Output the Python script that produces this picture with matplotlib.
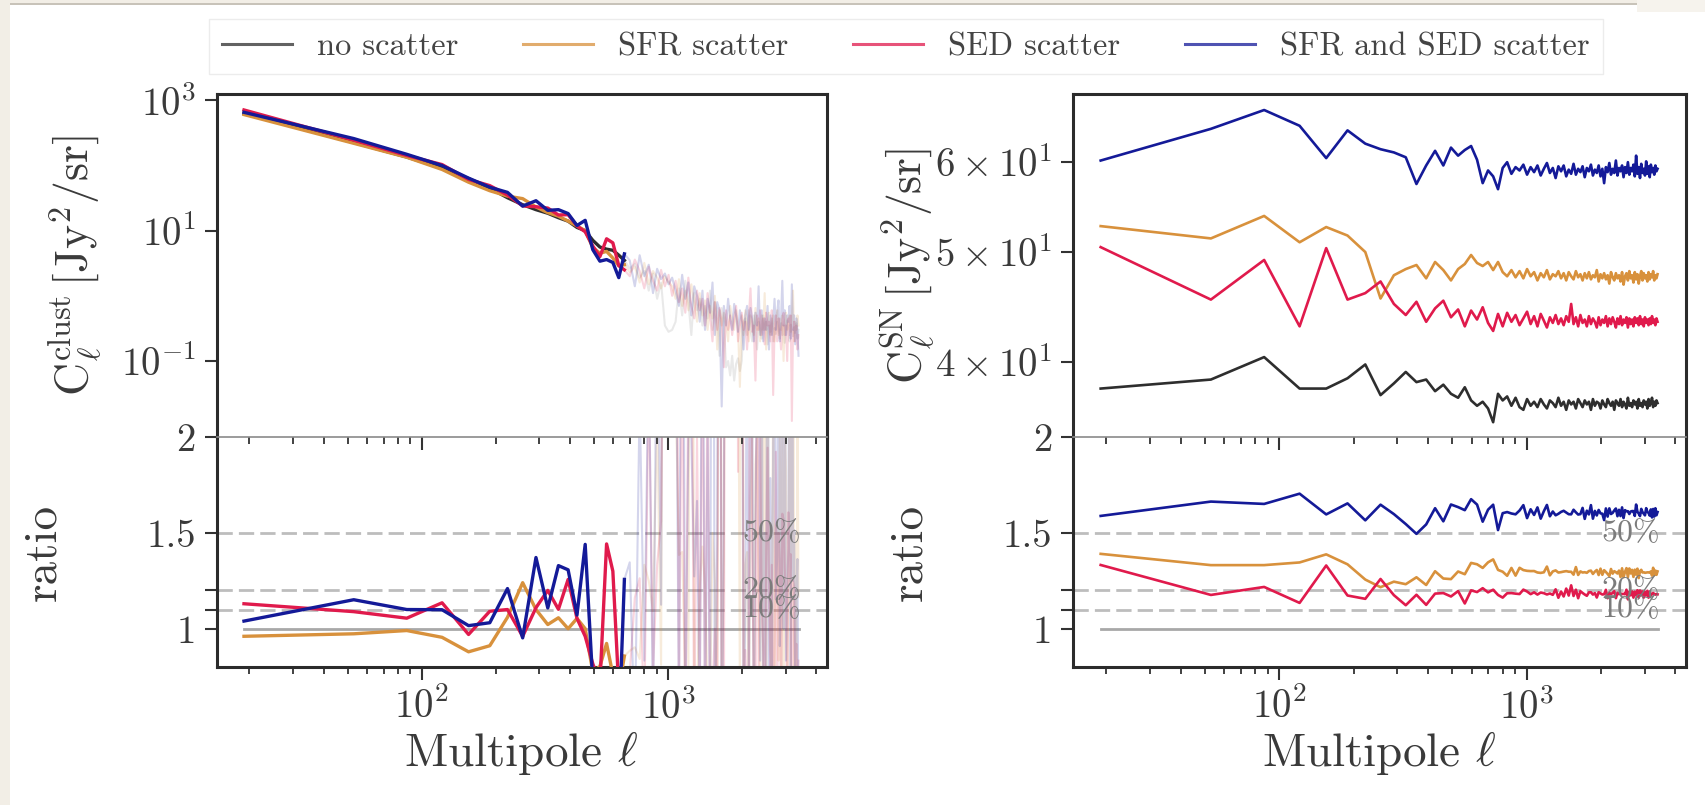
import matplotlib
matplotlib.use('Agg')
import matplotlib.pyplot as plt
from matplotlib.ticker import FixedLocator, FixedFormatter, NullLocator, LogLocator
from matplotlib.patches import Rectangle
from matplotlib.lines import Line2D
import numpy as np

plt.rcParams['font.family'] = ['cmr10', 'DejaVu Serif']
plt.rcParams['mathtext.fontset'] = 'cm'
plt.rcParams['axes.formatter.use_mathtext'] = True

# multipole bin centres
ell = [19, 53, 87, 121, 155, 189, 223, 257, 291, 325,
       359, 393, 427, 461, 495, 529, 563, 597, 631, 665,
       699, 733, 767, 801, 835, 869, 903, 937, 971, 1005,
       1039, 1073, 1107, 1141, 1175, 1209, 1243, 1277, 1311, 1345,
       1379, 1413, 1447, 1481, 1515, 1549, 1583, 1617, 1651, 1685,
       1719, 1753, 1787, 1821, 1855, 1889, 1923, 1957, 1991, 2025,
       2059, 2093, 2127, 2161, 2195, 2229, 2263, 2297, 2331, 2365,
       2399, 2433, 2467, 2501, 2535, 2569, 2603, 2637, 2671, 2705,
       2739, 2773, 2807, 2841, 2875, 2909, 2943, 2977, 3011, 3045,
       3079, 3113, 3147, 3181, 3215, 3249, 3283, 3317, 3351, 3385]
n_clean = 20   # clustering spectra are reliable up to this bin

labels = ['no scatter', 'SFR scatter', 'SED scatter', 'SFR and SED scatter']
colors = ['#2e2e2e', '#d8913c', '#e01a4c', '#141a98']

# clustering power [Jy^2/sr]
clust_none = [630, 225, 135, 91, 63, 45, 32, 25, 21, 18.5,
              15.8, 14.0, 11.2, 10.0, 7.1, 5.6, 5.2, 5.0, 4.2, 3.5,
              2.6, 3.1, 1.9, 2.4, 1.2, 2.2, 0.9, 1.6, 0.35, 0.28,
              0.3, 0.4, 1.3, 0.5, 1.7, 0.8, 0.25, 1.1, 0.6, 0.9,
              0.35, 0.7, 0.45, 1.2, 0.3, 0.8, 0.55, 0.12, 0.65, 0.4,
              0.08, 0.1, 0.06, 0.12, 0.05, 0.09, 0.11, 0.07, 0.1, 0.4,
              0.45, 0.25, 0.6, 0.3, 0.2, 0.5, 0.35, 0.15, 0.4, 0.3,
              0.22, 0.5, 0.3, 0.4, 0.18, 0.35, 0.28, 0.45, 0.2, 0.32,
              0.26, 0.4, 0.3, 0.22, 0.38, 0.25, 0.35, 0.19, 0.3, 0.42,
              0.28, 0.2, 0.36, 0.3, 0.24, 0.33, 0.27, 0.38, 0.22, 0.3]
clust_sfr = [605, 219, 133.7, 86.9, 55.4, 41.0, 33.9, 31.0, 23.1, 18.9,
             16.7, 14.0, 11.8, 10.0, 5.5, 4.5, 4.8, 3.8, 2.9, 3.0,
             2.3, 2.8, 1.6, 3.2, 1.5, 2.4, 1.9, 1.3, 2.0, 1.6,
             1.4, 0.9, 1.8, 0.7, 1.2, 0.6, 1.5, 0.8, 0.4, 1.1,
             0.5, 0.85, 0.3, 0.7, 0.45, 1.0, 0.15, 0.6, 0.35, 0.55,
             0.4, 0.2, 0.7, 0.45, 0.3, 0.6, 0.35, 0.04, 0.5, 0.25,
             0.6, 0.35, 0.2, 0.5, 0.4, 0.25, 0.65, 0.3, 0.45, 0.2,
             0.5, 0.3, 1.1, 0.15, 0.4, 0.55, 0.25, 0.35, 0.5, 0.2,
             0.4, 0.6, 0.25, 0.45, 0.3, 0.5, 0.1, 0.4, 0.55, 0.3,
             0.35, 0.5, 0.28, 0.45, 1.2, 0.2, 0.4, 0.3, 0.5, 0.35]
clust_sed = [712, 245, 142.4, 103.3, 61.1, 49.1, 35.2, 24.0, 23.3, 22.2,
             17.4, 17.6, 11.8, 9.6, 5.8, 4.0, 7.5, 6.5, 2.9, 2.5,
             2.0, 3.6, 2.4, 1.3, 2.8, 1.7, 1.2, 2.5, 1.4, 2.1,
             1.0, 1.7, 0.8, 1.3, 0.55, 1.9, 0.7, 0.45, 1.2, 0.6,
             0.9, 0.35, 1.1, 0.5, 0.2, 0.8, 0.3, 0.65, 0.4, 0.08,
             0.6, 0.3, 0.5, 0.25, 0.45, 0.7, 0.2, 0.35, 0.55, 0.3,
             0.4, 0.15, 0.45, 1.3, 0.28, 0.35, 0.05, 0.5, 0.3, 0.6,
             0.25, 0.45, 0.18, 0.55, 0.35, 0.4, 0.2, 0.6, 0.03, 0.3,
             0.5, 0.2, 0.45, 0.3, 0.15, 0.4, 0.55, 0.25, 0.35, 0.1,
             0.45, 0.25, 0.5, 0.012, 0.3, 0.4, 0.2, 0.35, 0.15, 0.25]
clust_both = [655, 259, 148.5, 100, 64, 46.4, 38.7, 23.8, 28.8, 20.5,
              21.0, 18.3, 12.0, 14.4, 5.1, 3.4, 3.6, 3.25, 1.9, 4.4,
              3.5, 1.4, 4.2, 2.0, 3.0, 1.1, 2.6, 1.8, 2.2, 1.5,
              1.9, 1.2, 0.7, 2.1, 0.9, 1.6, 0.5, 1.4, 1.0, 0.4,
              1.2, 0.3, 0.9, 0.55, 1.6, 0.25, 0.8, 0.6, 0.02, 0.7,
              0.35, 0.9, 0.45, 0.3, 0.75, 0.5, 0.28, 0.6, 0.4, 0.15,
              0.5, 0.7, 0.3, 0.65, 0.45, 0.2, 0.55, 0.35, 1.4, 0.25,
              0.6, 0.2, 0.45, 0.3, 0.7, 0.15, 0.5, 0.25, 0.4, 0.9,
              0.3, 0.55, 0.85, 0.2, 0.45, 1.7, 0.35, 0.6, 0.25, 0.5,
              0.4, 0.7, 0.22, 1.5, 0.3, 0.5, 0.18, 0.45, 0.3, 0.12]

# shot noise power [Jy^2/sr]
sn_none = [37.9, 38.6, 40.4, 37.9, 37.9, 38.7, 39.8, 37.4, 38.3, 39.2,
           38.4, 38.6, 37.7, 38.2, 37.5, 37.2, 38.0, 37.0, 36.6, 36.9,
           36.4, 35.4, 37.5, 37.0, 37.3, 36.6, 37.2, 36.5, 36.3, 37.1,
           36.6, 36.9, 36.5, 37.1, 36.7, 36.4, 37.0, 36.8, 36.5, 37.2,
           36.6, 36.9, 36.3, 37.0, 36.7, 36.9, 36.4, 37.1, 36.8, 36.5,
           37.0, 36.7, 36.9, 36.3, 37.1, 36.6, 36.9, 36.8, 36.4, 37.0,
           36.7, 36.5, 37.1, 36.8, 36.6, 36.9, 36.3, 37.0, 36.8, 36.6,
           37.1, 36.5, 36.9, 36.7, 36.4, 37.2, 36.6, 36.8, 36.5, 37.0,
           36.7, 36.9, 36.4, 37.1, 36.6, 36.8, 36.5, 37.0, 36.7, 36.9,
           36.4, 37.1, 36.6, 36.8, 37.2, 36.5, 36.9, 36.6, 37.0, 36.8]
sn_sfr = [52.7, 51.4, 53.8, 51.0, 52.6, 51.7, 50.0, 45.5, 47.7, 48.3,
          48.7, 47.4, 49.0, 48.2, 47.2, 48.3, 48.8, 49.7, 48.9, 48.6,
          49.0, 48.2, 49.0, 48.0, 47.6, 48.2, 47.5, 48.1, 47.4, 48.3,
          47.6, 48.0, 47.2, 47.9, 47.5, 48.2, 47.3, 47.8, 47.6, 48.1,
          47.4, 47.9, 47.2, 48.0, 47.6, 47.3, 48.1, 47.5, 47.8, 47.2,
          47.9, 47.4, 48.0, 47.3, 47.7, 47.5, 48.2, 47.1, 47.8, 47.4,
          47.9, 47.3, 47.7, 46.9, 48.0, 47.5, 47.2, 47.9, 47.4, 47.7,
          47.1, 48.0, 46.8, 47.6, 47.9, 47.2, 48.1, 47.4, 47.7, 47.0,
          48.0, 47.3, 47.8, 46.9, 47.6, 48.1, 47.2, 47.9, 47.4, 47.7,
          47.1, 48.0, 47.3, 47.8, 47.5, 48.1, 47.2, 47.7, 47.4, 47.8]
sn_sed = [50.5, 45.4, 49.2, 43.0, 50.4, 45.4, 46.0, 47.1, 45.0, 44.0,
          45.2, 43.4, 44.6, 45.3, 43.8, 44.5, 43.0, 44.4, 43.6, 44.7,
          43.3, 42.6, 44.1, 43.0, 44.2, 43.4, 44.0, 43.1, 43.7, 44.3,
          43.2, 43.9, 43.0, 44.1, 43.5, 42.9, 43.8, 43.3, 44.0, 43.2,
          43.7, 43.1, 43.9, 43.4, 45.0, 43.2, 43.8, 43.0, 44.0, 43.3,
          43.6, 43.0, 43.9, 43.2, 43.7, 43.4, 42.9, 43.8, 43.1, 43.6,
          43.3, 43.9, 43.0, 43.7, 43.2, 43.8, 43.4, 42.9, 43.7, 43.2,
          43.9, 43.1, 43.6, 43.3, 43.8, 42.9, 43.7, 43.2, 43.6, 43.0,
          43.8, 43.3, 43.7, 43.1, 43.9, 43.2, 43.6, 43.0, 43.8, 43.3,
          43.6, 43.1, 43.7, 43.2, 43.9, 43.3, 43.6, 43.1, 43.7, 43.4]
sn_both = [60.2, 64.2, 66.7, 64.6, 60.5, 64.0, 62.3, 61.6, 61.2, 60.6,
           57.4, 59.6, 61.4, 59.6, 61.8, 60.8, 61.5, 62.0, 60.3, 57.5,
           59.0, 58.3, 56.8, 59.3, 60.0, 58.6, 59.4, 59.0, 59.7, 58.5,
           59.4, 58.8, 59.6, 58.4, 59.2, 59.9, 58.7, 59.3, 58.1, 59.5,
           58.9, 59.6, 58.3, 59.1, 58.6, 59.8, 58.5, 59.2, 58.8, 59.5,
           58.2, 59.3, 58.9, 59.7, 58.4, 59.1, 58.7, 59.6, 58.3, 59.2,
           57.5, 59.4, 58.8, 59.9, 58.5, 59.2, 58.7, 60.2, 58.4, 59.3,
           58.9, 59.6, 58.2, 59.4, 58.7, 60.0, 58.5, 59.3, 58.9, 59.7,
           58.3, 60.8, 58.6, 59.4, 58.1, 59.8, 58.7, 59.2, 58.4, 60.1,
           58.6, 59.5, 58.2, 59.7, 58.8, 59.3, 58.5, 59.6, 58.9, 59.2]

clust_ticks = [1e-1, 1e1, 1e3]
sn_ticks = [40, 50, 60]
sn_tick_labels = [r'$4\times10^{1}$', r'$5\times10^{1}$', r'$6\times10^{1}$']
ratio_ticks = [1, 1.1, 1.2, 1.5, 2]
ratio_tick_labels = ['1', '', '', '1.5', '2']
ref_levels = [1.1, 1.2, 1.5]
ref_labels = ['10%', '20%', '50%']

ell = np.array(ell)
TXT = '#3a3a3a'
SPINE = '#2b2b2b'

fig = plt.figure(figsize=(17.06, 8.05), dpi=100)

# screenshot border
fig.add_artist(Rectangle((0, 0), 10 / 1706, 1, transform=fig.transFigure,
                         facecolor='#f2eee6', edgecolor='none'))
fig.add_artist(Rectangle((0, 1 - 3 / 805), 1, 3 / 805, transform=fig.transFigure,
                         facecolor='#f2eee6', edgecolor='none'))
fig.add_artist(Rectangle((1637 / 1706, 1 - 12 / 805), 69 / 1706, 12 / 805,
                         transform=fig.transFigure, facecolor='#f6f3ed', edgecolor='none'))
fig.add_artist(Rectangle((10 / 1706, 1 - 5 / 805), 1627 / 1706, 2 / 805,
                         transform=fig.transFigure, facecolor='#c8c3b9', edgecolor='none'))


def style(ax, top):
    ax.set_xscale('log')
    ax.set_xlim(14.72, 4406)
    ax.xaxis.set_major_locator(LogLocator(base=10))
    ax.xaxis.set_minor_locator(LogLocator(base=10, subs=np.arange(2, 10)))
    ax.tick_params(which='major', direction='out', length=9, width=1.5,
                   color='#333333', labelsize=28, labelcolor=TXT, pad=6)
    ax.tick_params(which='minor', direction='out', length=5, width=1.3, color='#333333')
    for s in ax.spines.values():
        s.set_linewidth(2.2)
        s.set_color(SPINE)
    if top:
        ax.tick_params(labelbottom=False)
        ax.spines['bottom'].set_linewidth(1.2)
        ax.spines['bottom'].set_color('#8a8a8a')
    else:
        ax.spines['top'].set_visible(False)
        ax.set_ylim(0.8, 2.0)
        ax.yaxis.set_major_locator(FixedLocator(ratio_ticks))
        ax.yaxis.set_major_formatter(FixedFormatter(ratio_tick_labels))
        for lev, lab in zip(ref_levels, ref_labels):
            ax.axhline(lev, color='#bdbdbd', lw=2, ls=(0, (5.5, 2.2)), zorder=1)
            ax.text(2000, lev, lab, fontsize=23, color='#7c7c7c', ha='left',
                    va='center', zorder=5)
        ax.set_xlabel(r'Multipole $\ell$', fontsize=34, color=TXT, labelpad=2)
        ax.set_ylabel('ratio', fontsize=34, color=TXT)


spectra_clust = [clust_none, clust_sfr, clust_sed, clust_both]
spectra_sn = [sn_none, sn_sfr, sn_sed, sn_both]

# left: clustering
axb_l = fig.add_axes([0.1270, 0.1714, 0.3576, 0.2857])
axt_l = fig.add_axes([0.1270, 0.4571, 0.3576, 0.4261])
c0 = np.array(clust_none)
for i, (vals, col) in enumerate(zip(spectra_clust, colors)):
    v = np.array(vals)
    axt_l.plot(ell[n_clean - 1:], v[n_clean - 1:], color=col, lw=1.5,
               alpha=0.1 if i == 0 else 0.18)
    if i > 0:
        axt_l.plot(ell[:n_clean], v[:n_clean], color=col, lw=2.4)
    r = v / c0
    if i == 0:
        axb_l.plot(ell, r, color='#a8a8a8', lw=2, zorder=2)
    else:
        axb_l.plot(ell[n_clean - 1:], r[n_clean - 1:], color=col, lw=1.5, alpha=0.18)
        axb_l.plot(ell[:n_clean], r[:n_clean], color=col, lw=2.4, zorder=3)
axt_l.plot(ell[:n_clean], c0[:n_clean], color=colors[0], lw=2.4, zorder=1)
axt_l.set_yscale('log')
axt_l.set_ylim(6.8e-3, 1.25e3)
axt_l.yaxis.set_major_locator(FixedLocator(clust_ticks))
axt_l.yaxis.set_minor_locator(NullLocator())
axt_l.set_ylabel(r'$\mathrm{C}_\ell^{\mathrm{clust}}\,[\mathrm{Jy}^2/\mathrm{sr}]$',
                 fontsize=33, color=TXT)

# right: shot noise
axb_r = fig.add_axes([0.6291, 0.1714, 0.3591, 0.2857])
axt_r = fig.add_axes([0.6291, 0.4571, 0.3591, 0.4261])
s0 = np.array(sn_none)
handles = []
for i, (vals, col) in enumerate(zip(spectra_sn, colors)):
    v = np.array(vals)
    axt_r.plot(ell, v, color=col, lw=1.9)
    handles.append(Line2D([], [], color=col, lw=2.2, alpha=0.75))
    r = v / s0
    if i == 0:
        axb_r.plot(ell, r, color='#a8a8a8', lw=2, zorder=2)
    else:
        axb_r.plot(ell, r, color=col, lw=1.9, zorder=3)
axt_r.set_yscale('log')
axt_r.set_ylim(34.35, 68.9)
axt_r.yaxis.set_major_locator(FixedLocator(sn_ticks))
axt_r.yaxis.set_major_formatter(FixedFormatter(sn_tick_labels))
axt_r.yaxis.set_minor_locator(NullLocator())
axt_r.set_ylabel(r'$\mathrm{C}_\ell^{\mathrm{SN}}\,[\mathrm{Jy}^2/\mathrm{sr}]$',
                 fontsize=33, color=TXT)

for ax in (axb_l, axb_r):
    style(ax, top=False)
for ax in (axt_l, axt_r):
    style(ax, top=True)

axt_l.yaxis.set_label_coords(-0.185, 0.5)
axb_l.yaxis.set_label_coords(-0.25, 0.5)
axt_r.yaxis.set_label_coords(-0.222, 0.5)
axb_r.yaxis.set_label_coords(-0.234, 0.5)

leg = fig.legend(handles, labels, loc='upper center', bbox_to_anchor=(0.531, 0.976),
                 ncol=4, fontsize=23.4, frameon=True, fancybox=False,
                 edgecolor='#ececec', framealpha=1, handlelength=2.15,
                 handletextpad=0.77, columnspacing=2.0, borderaxespad=0, borderpad=0.4)
for t in leg.get_texts():
    t.set_color('#444444')

fig.savefig('out.png', dpi=100)
